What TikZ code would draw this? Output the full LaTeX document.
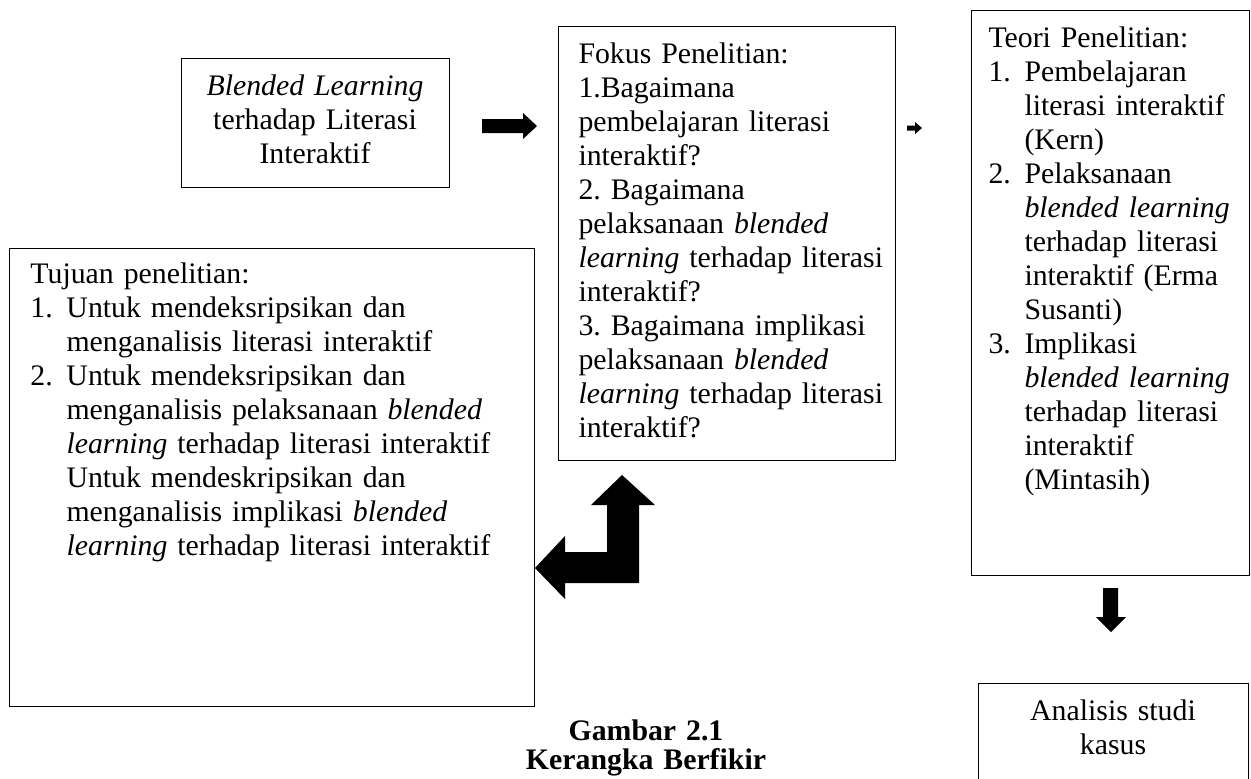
\documentclass[tikz,border=0pt]{standalone}
\usepackage{fontspec}
\setmainfont{Liberation Serif}
\usetikzlibrary{positioning}
\frenchspacing
\newcommand{\px}{0.4027pt}
\newlength{\itemhang}
\setlength{\itemhang}{14.5pt}
\newcommand{\numitem}[2]{\par\hangindent=\itemhang\hangafter=1\noindent\makebox[\itemhang][l]{#1}#2}
\newcommand{\hangitem}[1]{\par\hangindent=\itemhang\hangafter=0\noindent#1}

\begin{document}
\begin{tikzpicture}[x=\px, y=-\px,
    frame/.style ={draw, line width=0.5pt, anchor=north west, inner sep=0pt},
    body/.style ={anchor=base west, inner sep=0pt, font=\fontsize{12}{13.7}\selectfont,
      execute at begin node={\frenchspacing\setlength{\parskip}{0pt}\setlength{\parindent}{0pt}}},
    blockarrow/.style ={fill=black}]
   \useasboundingbox (0,0) rectangle (1251,778);
   % frames
   \node[frame, minimum width=268*\px, minimum height=129*\px] (blended) at (181,58) {};
   \node[frame, minimum width=337*\px, minimum height=434*\px] (fokus) at (558,26) {};
   \node[frame, minimum width=278*\px, minimum height=565*\px] (teori) at (971,10) {};
   \node[frame, minimum width=525*\px, minimum height=458*\px] (tujuan) at (9,248) {};
   \node[frame, minimum width=270*\px, minimum height=120*\px] (analisis) at (978,683) {};
   % texts
   \node[body, anchor=base, text width=260*\px, align=center] (blendedtext) at (315,95)
     {\textit{Blended Learning}\\terhadap Literasi\\Interaktif};
   \node[body, text width=320*\px] (fokustext) at (578,63) {Fokus Penelitian:\newline
     1.Bagaimana\newline
     pembelajaran literasi\newline
     interaktif?\newline
     2. Bagaimana\newline
     pelaksanaan \textit{blended}\newline
     \textit{learning} terhadap literasi\newline
     interaktif?\newline
     3. Bagaimana implikasi\newline
     pelaksanaan \textit{blended}\newline
     \textit{learning} terhadap literasi\newline
     interaktif?};
   \node[body, text width=265*\px] (teoritext) at (988,47) {Teori Penelitian:
     \numitem{1.}{Pembelajaran\newline literasi interaktif\newline (Kern)}
     \numitem{2.}{Pelaksanaan\newline \textit{blended learning}\newline terhadap literasi\newline interaktif (Erma\newline Susanti)}
     \numitem{3.}{Implikasi\newline \textit{blended learning}\newline terhadap literasi\newline interaktif\newline (Mintasih)}\par};
   \node[body, text width=480*\px] (tujuantext) at (30,283) {Tujuan penelitian:
     \numitem{1.}{Untuk mendeksripsikan dan\newline menganalisis literasi interaktif}
     \numitem{2.}{Untuk mendeksripsikan dan\newline menganalisis pelaksanaan \textit{blended}\newline \textit{learning} terhadap literasi interaktif}
     \hangitem{Untuk mendeskripsikan dan\newline menganalisis implikasi \textit{blended}\newline \textit{learning} terhadap literasi interaktif}\par};
   \node[body, anchor=base, text width=250*\px, align=center] (analisistext) at (1113,720)
     {Analisis studi\\kasus};
   \node[anchor=base, inner sep=0pt, text width=300*\px, align=center,
     font=\bfseries\fontsize{12}{11.7}\selectfont] (caption) at (646,740) {Gambar 2.1\\Kerangka Berfikir};
   % block arrows
   \fill[blockarrow] (482,119) -- (523,119) -- (523,113) -- (537,126) -- (523,139) -- (523,133) -- (482,133) -- cycle;
   \fill[blockarrow] (907,125.5) -- (915,125.5) -- (915,122) -- (922,128) -- (915,134) -- (915,130.5) -- (907,130.5) -- cycle;
   \fill[blockarrow] (1103,588) -- (1118,588) -- (1118,617) -- (1126,617) -- (1111,632) -- (1096,617) -- (1103,617) -- cycle;
   \fill[blockarrow] (622,475) -- (655,505) -- (639,505) -- (639,583) -- (565,583) -- (565,599) -- (535,568)
     -- (565,536) -- (565,552) -- (607,552) -- (607,505) -- (591,505) -- cycle;
\end{tikzpicture}
\end{document}
